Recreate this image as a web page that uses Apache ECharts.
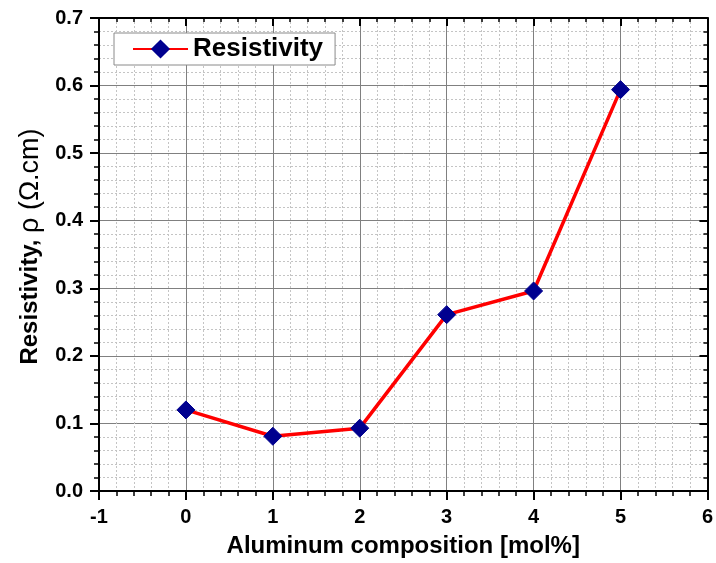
<!DOCTYPE html>
<html>
<head>
<meta charset="utf-8">
<script src="https://cdn.jsdelivr.net/npm/echarts@6/dist/echarts.min.js"></script>
<style>html,body{margin:0;padding:0;background:#fff;overflow:hidden}#c{width:716px;height:563px}</style>
</head>
<body>
<div id="c"></div>
<script>
const seriesName = 'Resistivity';
const xValues = [0, 1, 2, 3, 4, 5];
const resistivity = [0.120, 0.081, 0.093, 0.261, 0.296, 0.594];
const xTitle = 'Aluminum composition [mol%]';
const FONT = '"Liberation Sans", Arial, sans-serif';

const chart = echarts.init(document.getElementById('c'), null, {renderer: 'canvas', width: 716, height: 563});
const axisLine = {show: true, onZero: false, lineStyle: {color: '#000', width: 2}};
const majorGrid = {show: true, lineStyle: {color: '#808080', width: 1}};
const minorGrid = {show: true, lineStyle: {color: '#c4c4c4', width: 1, type: [2, 2]}};
const labelStyle = {color: '#000', fontFamily: FONT, fontWeight: 'bold', fontSize: 20};

chart.setOption({
  backgroundColor: '#fff',
  animation: false,
  grid: {left: 99, right: 4, top: 18, bottom: 70.5, containLabel: false},
  legend: {
    data: [seriesName], left: 114, top: 33,
    orient: 'horizontal',
    padding: [3, 12, 3, 18],
    itemWidth: 55, itemHeight: 24, itemGap: 5,
    backgroundColor: '#fff', borderColor: '#8a8a8a', borderWidth: 1,
    textStyle: {color: '#000', fontFamily: FONT, fontWeight: 'bold', fontSize: 26, lineHeight: 26}
  },
  xAxis: [{
    type: 'value', min: -1, max: 6, interval: 1, position: 'bottom',
    name: xTitle, nameLocation: 'middle', nameGap: 43,
    nameTextStyle: {color: '#000', fontFamily: FONT, fontWeight: 'bold', fontSize: 24},
    axisLine: axisLine,
    axisTick: {show: true, inside: false, length: 9, lineStyle: {color: '#000', width: 2}},
    minorTick: {show: true, splitNumber: 5, length: 5, lineStyle: {color: '#000', width: 1.5}},
    axisLabel: Object.assign({margin: 16}, labelStyle),
    splitLine: majorGrid, minorSplitLine: minorGrid
  }, {
    type: 'value', min: -1, max: 6, interval: 1, position: 'top',
    axisLine: axisLine,
    axisTick: {show: true, inside: true, length: 8, lineStyle: {color: '#000', width: 2}},
    minorTick: {show: true, splitNumber: 5, length: 4, lineStyle: {color: '#000', width: 1.5}},
    axisLabel: {show: false}, splitLine: {show: false}
  }],
  yAxis: [{
    type: 'value', min: 0, max: 0.7, interval: 0.1, position: 'left',
    name: '{b|Resistivity,} {n|ρ (Ω.cm)}', nameLocation: 'middle', nameGap: 54,
    nameTextStyle: {
      color: '#000', fontFamily: FONT, fontSize: 24,
      padding: [0, 0, 0, 16],
      rich: {
        b: {fontFamily: FONT, fontWeight: 'bold', fontSize: 24, color: '#000'},
        n: {fontFamily: FONT, fontWeight: 'normal', fontSize: 27, color: '#000'}
      }
    },
    axisLine: axisLine,
    axisTick: {show: true, inside: false, length: 9, lineStyle: {color: '#000', width: 2}},
    minorTick: {show: true, splitNumber: 5, length: 5, lineStyle: {color: '#000', width: 1.5}},
    axisLabel: Object.assign({margin: 16, formatter: v => v.toFixed(1)}, labelStyle),
    splitLine: majorGrid, minorSplitLine: minorGrid
  }, {
    type: 'value', min: 0, max: 0.7, interval: 0.1, position: 'right',
    axisLine: axisLine,
    axisTick: {show: true, inside: true, length: 8, lineStyle: {color: '#000', width: 2}},
    minorTick: {show: true, splitNumber: 5, length: 4, lineStyle: {color: '#000', width: 1.5}},
    axisLabel: {show: false}, splitLine: {show: false}
  }],
  series: [{
    name: seriesName, type: 'line', xAxisIndex: 0, yAxisIndex: 0,
    data: xValues.map((x, i) => [x, resistivity[i]]),
    symbol: 'diamond', symbolSize: 18,
    lineStyle: {color: '#ff0000', width: 3.5},
    itemStyle: {color: '#00008f', borderColor: '#00008f'},
    z: 5
  }]
});
</script>
</body>
</html>
